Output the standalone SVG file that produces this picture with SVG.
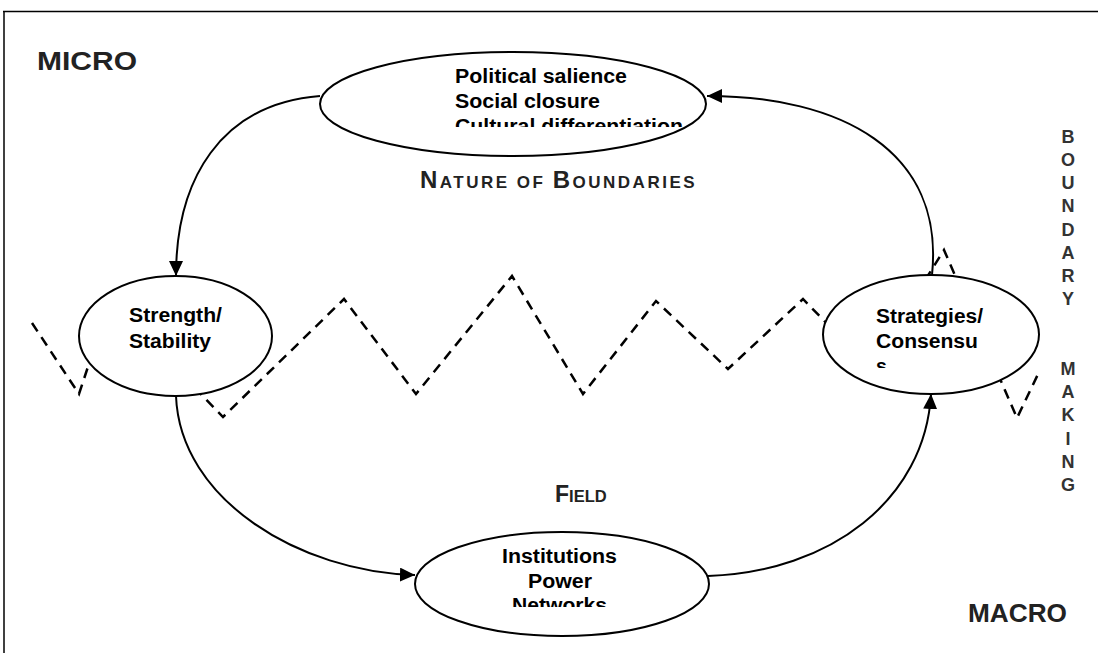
<svg xmlns="http://www.w3.org/2000/svg" width="1098" height="653" viewBox="0 0 1098 653">
<style>
.node{fill:#fff;stroke:#000;stroke-width:2}
.lbl{font-family:"Liberation Sans",Arial,sans-serif;font-weight:bold;font-size:19.5px;fill:#000}
.conn{fill:none;stroke:#000;stroke-width:2}
.zig{fill:none;stroke:#000;stroke-width:2.5;stroke-dasharray:10 7}
.cap{font-family:"Liberation Sans",Arial,sans-serif;font-weight:bold;fill:#222}
.side{font-family:"Liberation Sans",Arial,sans-serif;font-weight:bold;font-size:18px;fill:#333;text-anchor:middle}
</style>
<defs>
<marker id="arr" markerUnits="userSpaceOnUse" markerWidth="16" markerHeight="14" refX="15" refY="7" orient="auto">
<path d="M0,0 L15,7 L0,14 z" fill="#000"/>
</marker>
<clipPath id="c1"><rect x="300" y="50" width="420" height="77"/></clipPath>
<clipPath id="c2"><rect x="820" y="280" width="220" height="88"/></clipPath>
<clipPath id="c3"><rect x="420" y="535" width="290" height="72"/></clipPath>
</defs>
<rect width="1098" height="653" fill="#fff"/>
<g id="frame">
<line x1="3" y1="11.5" x2="1098" y2="11.5" stroke="#000" stroke-width="1.5"/>
<line x1="4" y1="11" x2="4" y2="653" stroke="#000" stroke-width="1.5"/>
</g>
<g id="zigzag">
<polyline class="zig" points="32,323 79,394 110,300 223,417 344,299 416,394 512,276 583,394 656,301 728,369 803,299 870,368 944,250 1017,418 1040,370"/>
</g>
<g id="node-top">
<ellipse class="node" cx="513" cy="104" rx="193" ry="52"/>
<g clip-path="url(#c1)">
<text class="lbl" x="455" y="83" textLength="172" lengthAdjust="spacingAndGlyphs">Political salience</text>
<text class="lbl" x="455" y="108" textLength="145" lengthAdjust="spacingAndGlyphs">Social closure</text>
<text class="lbl" x="455" y="133" textLength="228" lengthAdjust="spacingAndGlyphs">Cultural differentiation</text>
</g>
</g>
<g id="node-left">
<ellipse class="node" cx="175.5" cy="336" rx="96.5" ry="60"/>
<text class="lbl" x="129" y="322" textLength="93" lengthAdjust="spacingAndGlyphs">Strength/</text>
<text class="lbl" x="129" y="348" textLength="82" lengthAdjust="spacingAndGlyphs">Stability</text>
</g>
<g id="node-right">
<ellipse class="node" cx="931" cy="334.5" rx="108" ry="59.5"/>
<g clip-path="url(#c2)">
<text class="lbl" x="876" y="323" textLength="107" lengthAdjust="spacingAndGlyphs">Strategies/</text>
<text class="lbl" x="876" y="348" textLength="102" lengthAdjust="spacingAndGlyphs">Consensu</text>
<text class="lbl" x="876" y="373">s</text>
</g>
</g>
<g id="node-bottom">
<ellipse class="node" cx="562" cy="584" rx="147" ry="52"/>
<g clip-path="url(#c3)">
<text class="lbl" x="502" y="563" textLength="115" lengthAdjust="spacingAndGlyphs">Institutions</text>
<text class="lbl" x="528" y="588" textLength="64" lengthAdjust="spacingAndGlyphs">Power</text>
<text class="lbl" x="512" y="612" textLength="95" lengthAdjust="spacingAndGlyphs">Networks</text>
</g>
</g>
<g id="connectors">
<path class="conn" marker-end="url(#arr)" d="M320,96 C220,104 176,180 176,276"/>
<path class="conn" marker-end="url(#arr)" d="M176,396 C180,500 300,572 415,575"/>
<path class="conn" marker-end="url(#arr)" d="M708,576 C830,572 925,500 931,394"/>
<path class="conn" marker-end="url(#arr)" d="M932,275 C945,150 840,96 707,96"/>
</g>
<g id="labels">
<text class="cap" x="37" y="70" font-size="25" textLength="100" lengthAdjust="spacingAndGlyphs">MICRO</text>
<text class="cap" x="968" y="622" font-size="25" textLength="99" lengthAdjust="spacingAndGlyphs">MACRO</text>
<text class="cap" x="420" y="188" letter-spacing="2.5"><tspan font-size="24">N</tspan><tspan font-size="17">ATURE OF </tspan><tspan font-size="24">B</tspan><tspan font-size="17">OUNDARIES</tspan></text>
<text class="cap" x="555" y="502"><tspan font-size="23">F</tspan><tspan font-size="16.5">IELD</tspan></text>
</g>
<g id="boundary-making">
<text class="side" x="1068" y="143">B</text>
<text class="side" x="1068" y="166">O</text>
<text class="side" x="1068" y="189">U</text>
<text class="side" x="1068" y="212">N</text>
<text class="side" x="1068" y="236">D</text>
<text class="side" x="1068" y="259">A</text>
<text class="side" x="1068" y="282">R</text>
<text class="side" x="1068" y="305">Y</text>
<text class="side" x="1068" y="375">M</text>
<text class="side" x="1068" y="398">A</text>
<text class="side" x="1068" y="421">K</text>
<text class="side" x="1068" y="445">I</text>
<text class="side" x="1068" y="468">N</text>
<text class="side" x="1068" y="491">G</text>
</g>
</svg>
